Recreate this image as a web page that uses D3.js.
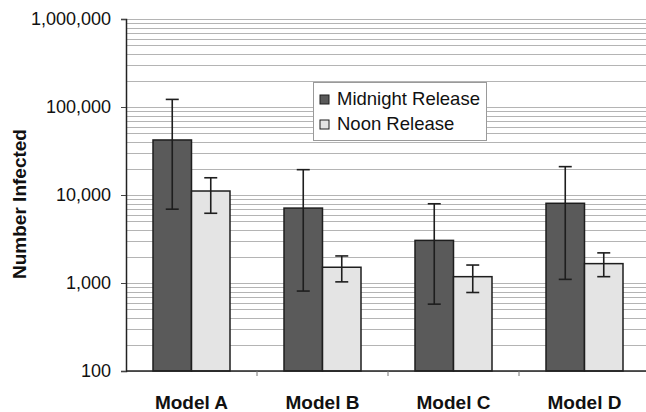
<!DOCTYPE html>
<html>
<head>
<meta charset="utf-8">
<script src="https://cdn.jsdelivr.net/npm/d3@7"></script>
<style>
  body { margin: 0; background: #fff; }
  svg { display: block; font-family: "Liberation Sans", Arial, sans-serif; }
</style>
</head>
<body>
<svg width="646" height="412"></svg>
<script>
// values
var models = ["Model A", "Model B", "Model C", "Model D"];
var series = ["Midnight Release", "Noon Release"];
var midnight = [42200, 7100, 3050, 8050];
var midnightLow = [6900, 810, 575, 1100];
var midnightHigh = [122000, 19400, 7950, 21000];
var noon = [11100, 1510, 1180, 1660];
var noonLow = [6200, 1030, 780, 1180];
var noonHigh = [15700, 2030, 1600, 2200];
var yTicks = [100, 1000, 10000, 100000, 1000000];

var svg = d3.select("svg");
var plotLeft = 126, plotRight = 650, plotTop = 19, plotBottom = 371;

var x = d3.scaleBand().domain(models).range([plotLeft, plotRight]).paddingInner(0).paddingOuter(0);
var sub = d3.scaleBand().domain(series).range([27, x.bandwidth() - 27]);
var y = d3.scaleLog().domain([100, 1000000]).range([plotBottom, plotTop]);
var color = d3.scaleOrdinal().domain(series).range(["#5a5a5a", "#e4e4e4"]);

// gridlines: every 1..9 step of each decade
var grid = [];
for (var dec = 100; dec < 1000000; dec *= 10) {
    for (var k = 1; k < 10; k++) grid.push(dec * k);
}
grid.push(1000000);

svg.append("g")
    .selectAll("line")
    .data(grid)
    .enter().append("line")
    .attr("x1", plotLeft).attr("x2", plotRight)
    .attr("y1", d => Math.round(y(d)) + 0.5)
    .attr("y2", d => Math.round(y(d)) + 0.5)
    .attr("stroke", "#b4b4b4")
    .attr("stroke-width", 1);

// rows of bar data
var rows = models.map((m, i) => ({
    model: m,
    bars: [
        { s: series[0], v: midnight[i], lo: midnightLow[i], hi: midnightHigh[i] },
        { s: series[1], v: noon[i], lo: noonLow[i], hi: noonHigh[i] }
    ]
}));

var groups = svg.append("g")
    .selectAll("g")
    .data(rows)
    .enter().append("g")
    .attr("transform", d => "translate(" + x(d.model) + ",0)");

groups.selectAll("rect")
    .data(d => d.bars)
    .enter().append("rect")
    .attr("x", d => sub(d.s))
    .attr("width", sub.bandwidth())
    .attr("y", d => y(d.v))
    .attr("height", d => plotBottom - y(d.v))
    .attr("fill", d => color(d.s))
    .attr("stroke", "#1e1e1e")
    .attr("stroke-width", 1.5);

// error bars
var err = groups.selectAll("g.err")
    .data(d => d.bars)
    .enter().append("g")
    .attr("class", "err")
    .attr("stroke", "#1e1e1e")
    .attr("stroke-width", 1.6);

err.append("line")
    .attr("x1", d => sub(d.s) + sub.bandwidth() / 2)
    .attr("x2", d => sub(d.s) + sub.bandwidth() / 2)
    .attr("y1", d => y(d.hi))
    .attr("y2", d => y(d.lo));
err.append("line")
    .attr("x1", d => sub(d.s) + sub.bandwidth() / 2 - 6.5)
    .attr("x2", d => sub(d.s) + sub.bandwidth() / 2 + 6.5)
    .attr("y1", d => y(d.hi))
    .attr("y2", d => y(d.hi));
err.append("line")
    .attr("x1", d => sub(d.s) + sub.bandwidth() / 2 - 6.5)
    .attr("x2", d => sub(d.s) + sub.bandwidth() / 2 + 6.5)
    .attr("y1", d => y(d.lo))
    .attr("y2", d => y(d.lo));

// y axis
var yAxis = svg.append("g")
    .attr("transform", "translate(" + plotLeft + ",0)")
    .call(d3.axisLeft(y).tickValues(yTicks).tickFormat(d3.format(",")).tickSize(5).tickPadding(10));
yAxis.select(".domain").attr("stroke", "#222").attr("stroke-width", 1.5);
yAxis.selectAll(".tick line").attr("stroke", "#444");
yAxis.selectAll("text").attr("font-size", 18).attr("fill", "#111")
    .attr("font-family", "'Liberation Sans', Arial, sans-serif");

// x axis
var xAxis = svg.append("g")
    .attr("transform", "translate(0," + plotBottom + ")");
xAxis.append("line")
    .attr("x1", plotLeft).attr("x2", plotRight)
    .attr("y1", 0).attr("y2", 0)
    .attr("stroke", "#222").attr("stroke-width", 1.5);
xAxis.selectAll("line.tk")
    .data(models.slice(1))
    .enter().append("line")
    .attr("class", "tk")
    .attr("x1", d => x(d)).attr("x2", d => x(d))
    .attr("y1", 0).attr("y2", 5)
    .attr("stroke", "#777");
xAxis.selectAll("text")
    .data(models)
    .enter().append("text")
    .attr("x", d => x(d) + x.bandwidth() / 2)
    .attr("y", 38)
    .attr("text-anchor", "middle")
    .attr("font-size", 19)
    .attr("font-weight", "bold")
    .attr("fill", "#111")
    .text(d => d);

// y title
svg.append("text")
    .attr("transform", "translate(26,204) rotate(-90)")
    .attr("text-anchor", "middle")
    .attr("font-size", 19)
    .attr("font-weight", "bold")
    .attr("fill", "#111")
    .text("Number Infected");

// legend
var legend = svg.append("g").attr("transform", "translate(313,82)");
legend.append("rect")
    .attr("x", 0.5).attr("y", 0.5)
    .attr("width", 173).attr("height", 58)
    .attr("fill", "#fff")
    .attr("stroke", "#9a9a9a");
var item = legend.selectAll("g")
    .data(series)
    .enter().append("g")
    .attr("transform", (d, i) => "translate(7," + (13 + i * 25) + ")");
item.append("rect")
    .attr("width", 9).attr("height", 9)
    .attr("fill", d => color(d))
    .attr("stroke", "#1e1e1e");
item.append("text")
    .attr("x", 17).attr("y", 10)
    .attr("font-size", 18.5)
    .attr("fill", "#111")
    .text(d => d);
</script>
</body>
</html>
